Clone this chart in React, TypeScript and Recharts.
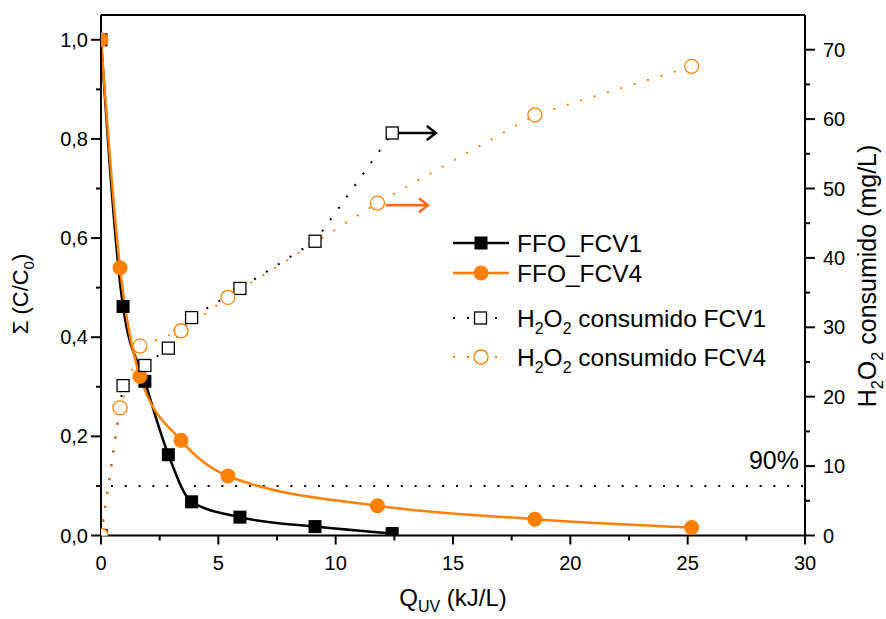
import React from "react"
import {
  ComposedChart, Line, XAxis, YAxis, ReferenceLine, Legend,
} from "recharts"

// Q_UV (kJ/L) for each run
const qFCV1 = [0, 0.94, 1.87, 2.87, 3.86, 5.92, 9.12, 12.41]
const qFCV4 = [0, 0.81, 1.66, 3.41, 5.41, 11.78, 18.49, 25.17]

// Σ(C/C0)
const ffoFCV1 = [1.0, 0.462, 0.311, 0.163, 0.068, 0.037, 0.018, 0.004]
const ffoFCV4 = [1.0, 0.54, 0.321, 0.192, 0.12, 0.06, 0.033, 0.016]

// H2O2 consumido (mg/L)
const h2o2FCV1 = [0, 21.6, 24.5, 27.0, 31.4, 35.6, 42.4, 58.0]
const h2o2FCV4 = [0, 18.4, 27.3, 29.5, 34.3, 47.9, 60.6, 67.6]

const xTicks = [0, 2.5, 5, 7.5, 10, 12.5, 15, 17.5, 20, 22.5, 25, 27.5, 30]
const leftTicks = [0, 0.1, 0.2, 0.3, 0.4, 0.5, 0.6, 0.7, 0.8, 0.9, 1.0]
const rightTicks = [0, 5, 10, 15, 20, 25, 30, 35, 40, 45, 50, 55, 60, 65, 70]

const ORANGE = "#ff8000"
const ARROW_ORANGE = "#ff6a10"
const FONT = "'Liberation Sans', Arial, sans-serif"

const fcv1 = qFCV1.map((x, i) => ({ x, ffo: ffoFCV1[i], h2o2: h2o2FCV1[i] }))
const fcv4 = qFCV4.map((x, i) => ({ x, ffo: ffoFCV4[i], h2o2: h2o2FCV4[i] }))

const LeftTick = ({ x, y, payload }: any) => {
  const major = Math.round(payload.value * 10) % 2 === 0
  return (
    <g>
      <line x1={x} x2={x - (major ? 10 : 5)} y1={y} y2={y} stroke="#000" strokeWidth={2} />
      {major && (
        <text x={x - 13} y={y} textAnchor="end" dominantBaseline="central" fontSize={20} fontFamily={FONT} fill="#000">
          {payload.value.toFixed(1).replace(".", ",")}
        </text>
      )}
    </g>
  )
}

const RightTick = ({ x, y, payload }: any) => {
  const major = payload.value % 10 === 0
  return (
    <g>
      <line x1={x} x2={x + (major ? 10 : 5)} y1={y} y2={y} stroke="#000" strokeWidth={2} />
      {major && (
        <text x={x + 18} y={y} textAnchor="start" dominantBaseline="central" fontSize={20} fontFamily={FONT} fill="#000">
          {payload.value}
        </text>
      )}
    </g>
  )
}

const BottomTick = ({ x, y, payload }: any) => {
  const major = payload.value % 5 === 0
  return (
    <g>
      <line x1={x} x2={x} y1={y} y2={y + (major ? 9 : 5)} stroke="#000" strokeWidth={2} />
      {major && (
        <text x={x} y={y + 27} textAnchor="middle" dominantBaseline="central" fontSize={20} fontFamily={FONT} fill="#000">
          {payload.value}
        </text>
      )}
    </g>
  )
}

const FilledSquare = ({ cx, cy, index }: any) => (
  <rect key={index} x={cx - 6.5} y={cy - 6.5} width={13} height={13} fill="#000" />
)
const FilledCircle = ({ cx, cy, index }: any) => (
  <circle key={index} cx={cx} cy={cy} r={7.5} fill={ORANGE} />
)
const OpenSquare = ({ cx, cy, index }: any) => (
  <rect key={index} x={cx - 6} y={cy - 6} width={12} height={12} fill="#fff" stroke="#000" strokeWidth={1.3} />
)
const OpenCircle = ({ cx, cy, index }: any) => (
  <circle key={index} cx={cx} cy={cy} r={7} fill="#fff" stroke={ORANGE} strokeWidth={1.3} />
)

const arrowShape = (color: string) => (p: any) => (
  <g>
    <line x1={p.x1} y1={p.y1} x2={p.x2} y2={p.y2} stroke={color} strokeWidth={2.5} />
    <polyline points={`${p.x2 - 9},${p.y2 - 7} ${p.x2},${p.y2} ${p.x2 - 9},${p.y2 + 7}`} fill="none" stroke={color} strokeWidth={2.5} />
  </g>
)

const ninetyShape = (p: any) => (
  <g>
    <line x1={p.x1 + 10} y1={p.y1} x2={p.x2} y2={p.y2} stroke="#000" strokeWidth={2} strokeDasharray="2 11.8" />
    <text x={p.x2 - 6} y={p.y1 - 17} textAnchor="end" fontSize={25} fontFamily={FONT} fill="#000">90%</text>
  </g>
)

const H2O2 = () => (
  <>
    <tspan>H</tspan>
    <tspan dy={7} fontSize="0.65em">2</tspan>
    <tspan dy={-7}>O</tspan>
    <tspan dy={7} fontSize="0.65em">2</tspan>
    <tspan dy={-7}> consumido</tspan>
  </>
)

const LegendBox = () => {
  const rows = [
    { y: 18, color: "#000", dash: undefined, mark: "fsq", label: "FFO_FCV1" },
    { y: 48, color: ORANGE, dash: undefined, mark: "fci", label: "FFO_FCV4" },
    { y: 93, color: "#000", dash: "2 12", mark: "osq", label: "FCV1" },
    { y: 132, color: ORANGE, dash: "2 12", mark: "oci", label: "FCV4" },
  ]
  return (
    <svg width={360} height={150} style={{ display: "block", overflow: "visible" }}>
      {rows.map((r) => (
        <g key={r.y}>
          <line x1={8} x2={64} y1={r.y} y2={r.y} stroke={r.color} strokeWidth={r.dash ? 2 : 2.5} strokeDasharray={r.dash} />
          {r.mark === "fsq" && <rect x={29.5} y={r.y - 6.5} width={13} height={13} fill="#000" />}
          {r.mark === "fci" && <circle cx={36} cy={r.y} r={7.5} fill={ORANGE} />}
          {r.mark === "osq" && <rect x={29.5} y={r.y - 6} width={12} height={12} fill="#fff" stroke="#000" strokeWidth={1.3} />}
          {r.mark === "oci" && <circle cx={36} cy={r.y} r={7} fill="#fff" stroke={ORANGE} strokeWidth={1.3} />}
          <text x={72} y={r.y + 8.5} fontSize={24.5} fontFamily={FONT} fill="#000">
            {r.dash ? (<><H2O2 /><tspan> {r.label}</tspan></>) : r.label}
          </text>
        </g>
      ))}
    </svg>
  )
}

export default function App() {
  return (
    <div style={{ position: "absolute", left: 0, top: 0, width: 886, height: 619, background: "#fff" }}>
      <ComposedChart width={886} height={619} margin={{ top: 15, right: 0, bottom: 0, left: 0 }}>
        <XAxis
          type="number" dataKey="x" domain={[0, 30]} ticks={xTicks} interval={0}
          height={83.5} tickSize={0} tickMargin={0} tickLine={false}
          axisLine={{ stroke: "#000", strokeWidth: 2 }} tick={<BottomTick />} allowDataOverflow
          label={{
            content: () => (
              <text x={453} y={606} textAnchor="middle" fontSize={24} fontFamily={FONT} fill="#000">
                <tspan>Q</tspan>
                <tspan dy={6} fontSize={16}>UV</tspan>
                <tspan dy={-6}> (kJ/L)</tspan>
              </text>
            ),
          }}
        />
        <YAxis
          yAxisId="left" orientation="left" type="number" domain={[0, 1.05]} ticks={leftTicks} interval={0}
          width={101} tickSize={0} tickMargin={0} tickLine={false}
          axisLine={{ stroke: "#000", strokeWidth: 2 }} tick={<LeftTick />} allowDataOverflow
          label={{
            content: () => (
              <text transform="translate(28,294) rotate(-90)" textAnchor="middle" fontSize={22} fontFamily={FONT} fill="#000">
                <tspan>Σ (C/C</tspan>
                <tspan dy={6} fontSize={15}>0</tspan>
                <tspan dy={-6}>)</tspan>
              </text>
            ),
          }}
        />
        <YAxis
          yAxisId="right" orientation="right" type="number" domain={[0, 75]} ticks={rightTicks} interval={0}
          width={81} tickSize={0} tickMargin={0} tickLine={false}
          axisLine={{ stroke: "#000", strokeWidth: 2 }} tick={<RightTick />} allowDataOverflow
          label={{
            content: () => (
              <text transform="translate(876,276) rotate(-90)" textAnchor="middle" fontSize={25} fontFamily={FONT} fill="#000">
                <H2O2 />
                <tspan> (mg/L)</tspan>
              </text>
            ),
          }}
        />

        <ReferenceLine yAxisId="left" y={1.05} stroke="#000" strokeWidth={2} />
        <ReferenceLine yAxisId="left" y={0.1} shape={ninetyShape} />

        <Line yAxisId="left" data={fcv1} dataKey="ffo" type="monotone" stroke="#000" strokeWidth={2.5}
          dot={FilledSquare} activeDot={false} isAnimationActive={false} legendType="none" />
        <Line yAxisId="left" data={fcv4} dataKey="ffo" type="monotone" stroke={ORANGE} strokeWidth={2.5}
          dot={FilledCircle} activeDot={false} isAnimationActive={false} legendType="none" />
        <Line yAxisId="right" data={fcv1} dataKey="h2o2" type="linear" stroke="#000" strokeWidth={2}
          strokeDasharray="2 12" dot={OpenSquare} activeDot={false} isAnimationActive={false} legendType="none" />
        <Line yAxisId="right" data={fcv4} dataKey="h2o2" type="linear" stroke={ORANGE} strokeWidth={2}
          strokeDasharray="2 12" dot={OpenCircle} activeDot={false} isAnimationActive={false} legendType="none" />

        <ReferenceLine yAxisId="right" segment={[{ x: 12.65, y: 58 }, { x: 14.27, y: 58 }]} shape={arrowShape("#000")} />
        <ReferenceLine yAxisId="right" segment={[{ x: 12.14, y: 47.6 }, { x: 13.93, y: 47.6 }]} shape={arrowShape(ARROW_ORANGE)} />

        <Legend
          layout="vertical" align="center" verticalAlign="middle"
          content={() => <LegendBox />}
          wrapperStyle={{ position: "absolute", left: 445, top: 225, width: 360, height: 150 }}
        />
      </ComposedChart>
    </div>
  )
}
